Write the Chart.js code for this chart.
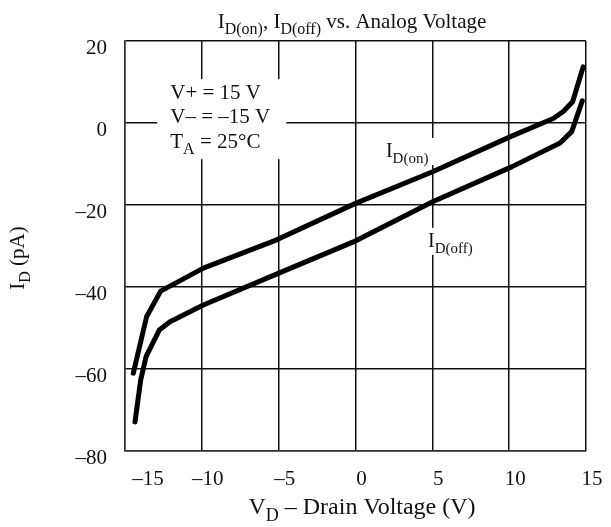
<!DOCTYPE html>
<html>
<head>
<meta charset="utf-8">
<script src="https://cdn.jsdelivr.net/npm/chart.js@4"></script>
<style>
  html, body { margin: 0; padding: 0; background: #fff; }
  #wrap { width: 611px; height: 527px; }
</style>
</head>
<body>
<div id="wrap"><canvas id="grafico" width="611" height="527"></canvas></div>
<script>
// datos
const vOn  = [-14.46, -13.59, -12.68, -9.9, -5.13, 0.0, 5.02, 10.16, 12.87, 13.52, 14.13, 14.82];
const iOn  = [-61.0, -47.2, -41.0, -35.4, -28.5, -19.6, -11.9, -3.2, 1.1, 2.8, 5.2, 13.7];
const vOff = [-14.35, -13.98, -13.63, -12.77, -12.07, -9.9, -4.91, -0.14, 5.02, 10.16, 13.31, 14.07, 14.76];
const iOff = [-72.9, -62.7, -57.0, -50.5, -48.5, -44.4, -36.5, -29.0, -19.2, -10.7, -4.9, -2.1, 5.4];
const xTicks = [-15, -10, -5, 0, 5, 10, 15];
const yTicks = [-80, -60, -40, -20, 0, 20];

const FUENTE = '"Liberation Serif", "Times New Roman", serif';

// dibuja texto con subindices: partes = [[texto, esSub], ...]
function textoSub(ctx, partes, x, y, size, align) {
  ctx.save();
  ctx.textBaseline = 'alphabetic';
  ctx.textAlign = 'left';
  const subSize = Math.round(size * 0.75);
  let total = 0;
  partes.forEach(([t, sub]) => {
    ctx.font = (sub ? subSize : size) + 'px ' + FUENTE;
    total += ctx.measureText(t).width;
  });
  let cx = align === 'center' ? x - total / 2 : x;
  partes.forEach(([t, sub]) => {
    ctx.font = (sub ? subSize : size) + 'px ' + FUENTE;
    ctx.fillText(t, cx, sub ? y + size * 0.3 : y);
    cx += ctx.measureText(t).width;
  });
  ctx.restore();
  return total;
}

const menos = (v) => (v < 0 ? '\u2013' + Math.abs(v) : String(v));

const anotaciones = {
  id: 'anotaciones',
  beforeDatasetsDraw(chart) {
    const { ctx, scales: { x, y } } = chart;
    ctx.save();
    ctx.fillStyle = '#fff';
    // caja de condiciones
    const bx = x.getPixelForValue(-12.9), by = y.getPixelForValue(10.7);
    ctx.fillRect(bx, by, 129, 80);
    // cajas de etiquetas
    const onX = x.getPixelForValue(1.98), onY = y.getPixelForValue(-8.3);
    ctx.fillRect(onX - 4, onY - 19, 60, 27);
    const offX = x.getPixelForValue(4.72), offY = y.getPixelForValue(-30.2);
    ctx.fillRect(offX - 4, offY - 19, 62, 27);
    ctx.fillStyle = '#111';
    const tx = bx + 13;
    textoSub(ctx, [['V+ = 15 V', false]], tx, by + 20, 21);
    textoSub(ctx, [['V\u2013 = \u201315 V', false]], tx, by + 44, 21);
    textoSub(ctx, [['T', false], ['A', true], [' = 25\u00B0C', false]], tx, by + 69, 21);
    textoSub(ctx, [['I', false], ['D(on)', true]], onX, onY, 20);
    textoSub(ctx, [['I', false], ['D(off)', true]], offX, offY, 20);
    ctx.restore();
  },
  afterDraw(chart) {
    const { ctx, scales: { x } } = chart;
    ctx.save();
    ctx.fillStyle = '#111';
    // etiquetas del eje x (la de -15 va corrida como en el original)
    ctx.font = '21px ' + FUENTE;
    ctx.textAlign = 'center';
    ctx.textBaseline = 'middle';
    xTicks.forEach((v, i) => {
      const dx = i === 0 ? 23 : 6;
      ctx.fillText(menos(v), x.getPixelForValue(v) + dx, 479);
    });
    textoSub(ctx, [['I', false], ['D(on)', true], [', I', false], ['D(off)', true], [' vs. Analog Voltage', false]],
      352, 28, 21, 'center');
    textoSub(ctx, [['V', false], ['D', true], [' \u2013 Drain Voltage (V)', false]],
      362, 514, 24, 'center');
    ctx.translate(24, 258);
    ctx.rotate(-Math.PI / 2);
    textoSub(ctx, [['I', false], ['D', true], [' (pA)', false]], 0, 0, 21, 'center');
    ctx.restore();
  }
};

new Chart(document.getElementById('grafico'), {
  type: 'line',
  data: {
    datasets: [
      { label: 'ID(on)', data: vOn.map((v, i) => ({ x: v, y: iOn[i] })) },
      { label: 'ID(off)', data: vOff.map((v, i) => ({ x: v, y: iOff[i] })) }
    ].map(d => Object.assign(d, {
      borderColor: '#000', borderWidth: 5, pointRadius: 0, tension: 0,
      borderCapStyle: 'round', borderJoinStyle: 'round', fill: false
    }))
  },
  options: {
    responsive: false,
    animation: false,
    layout: { padding: { top: 41, right: 25, left: 0, bottom: 0 } },
    plugins: { legend: { display: false }, tooltip: { enabled: false }, title: { display: false } },
    scales: {
      x: {
        type: 'linear', min: -15, max: 15,
        afterBuildTicks: (s) => { s.ticks = xTicks.map(v => ({ value: v })); },
        afterFit: (s) => { s.height = 76; },
        grid: { color: '#111', lineWidth: 1.5, drawTicks: false },
        border: { color: '#333', width: 1.5 },
        ticks: { display: false }
      },
      y: {
        type: 'linear', min: -80, max: 20,
        afterBuildTicks: (s) => { s.ticks = yTicks.map(v => ({ value: v })); },
        afterFit: (s) => { s.width = 125; },
        grid: { color: '#111', lineWidth: 1.5, drawTicks: false },
        border: { color: '#333', width: 1.5 },
        ticks: { padding: 18, labelOffset: 7, color: '#111', font: { family: FUENTE, size: 21 }, callback: menos }
      }
    }
  },
  plugins: [anotaciones]
});
</script>
</body>
</html>
